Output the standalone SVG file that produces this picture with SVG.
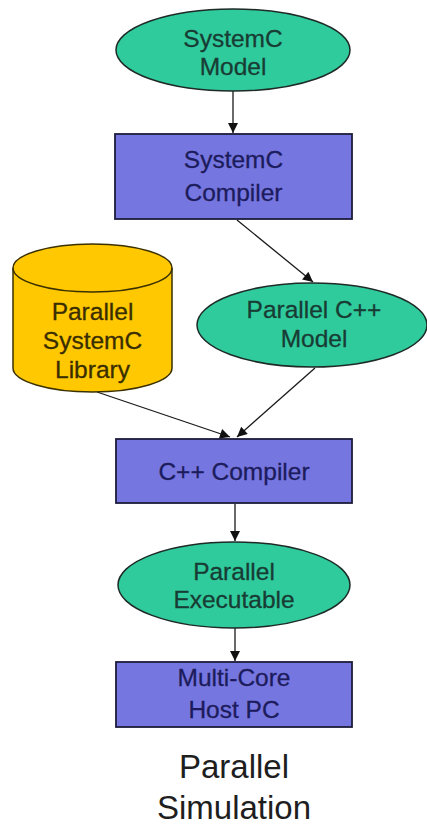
<svg xmlns="http://www.w3.org/2000/svg" width="427" height="825" viewBox="0 0 427 825">
  <defs>
    <marker id="arrow" viewBox="0 0 10 10" refX="10" refY="5" markerWidth="11" markerHeight="10" markerUnits="userSpaceOnUse" orient="auto">
      <path d="M0,0 L10,5 L0,10 z" fill="#111"/>
    </marker>
    <style>
      .ell { fill: #2fcb9c; stroke: #1d2a26; stroke-width: 1.5; }
      .box { fill: #7676e0; stroke: #1c1c3c; stroke-width: 1.8; }
      .cyl { fill: #ffc800; stroke: #3a3000; stroke-width: 1.5; }
      .edge { fill: none; stroke: #1a1a1a; stroke-width: 1.3; marker-end: url(#arrow); }
      text { font-family: "Liberation Sans", Arial, sans-serif; font-size: 24.5px; text-anchor: middle; stroke-width: 0.3px; }
      .t-ell { fill: #183c34; stroke: #183c34; }
      .t-box { fill: #1c1c5c; stroke: #1c1c5c; }
      .t-cyl { fill: #3a2e00; stroke: #3a2e00; }
      .title { fill: #1e1e1e; font-size: 33px; }
    </style>
  </defs>

  <!-- connectors -->
  <g id="edges">
    <line class="edge" x1="233" y1="91" x2="233" y2="133"/>
    <line class="edge" x1="237" y1="220" x2="313" y2="282"/>
    <line class="edge" x1="97" y1="392" x2="230" y2="437"/>
    <line class="edge" x1="315" y1="368" x2="237" y2="437"/>
    <line class="edge" x1="235" y1="504" x2="235" y2="541"/>
    <line class="edge" x1="235" y1="628" x2="235" y2="661"/>
  </g>

  <g id="systemc-model">
    <ellipse class="ell" cx="233" cy="50" rx="117" ry="41"/>
    <text class="t-ell" x="233" y="47">SystemC</text>
    <text class="t-ell" x="233" y="75">Model</text>
  </g>

  <g id="systemc-compiler">
    <rect class="box" x="115" y="134" width="237" height="85"/>
    <text class="t-box" x="233.5" y="168">SystemC</text>
    <text class="t-box" x="233.5" y="201">Compiler</text>
  </g>

  <g id="parallel-systemc-library">
    <path class="cyl" d="M13,268 L13,368 A79.5,24 0 0 0 172,368 L172,268 A79.5,24 0 0 0 13,268 z"/>
    <path class="cyl" d="M13,268 A79.5,24 0 0 0 172,268" style="fill:none"/>
    <text class="t-cyl" x="92.5" y="320">Parallel</text>
    <text class="t-cyl" x="92.5" y="349">SystemC</text>
    <text class="t-cyl" x="92.5" y="378">Library</text>
  </g>

  <g id="parallel-cpp-model">
    <ellipse class="ell" cx="312" cy="325" rx="115" ry="42"/>
    <text class="t-ell" x="314" y="318">Parallel C++</text>
    <text class="t-ell" x="314" y="347">Model</text>
  </g>

  <g id="cpp-compiler">
    <rect class="box" x="116" y="439" width="236" height="64"/>
    <text class="t-box" x="234" y="480">C++ Compiler</text>
  </g>

  <g id="parallel-executable">
    <ellipse class="ell" cx="234" cy="585" rx="116" ry="43"/>
    <text class="t-ell" x="234" y="580">Parallel</text>
    <text class="t-ell" x="234" y="608">Executable</text>
  </g>

  <g id="multicore-host">
    <rect class="box" x="116" y="662" width="236" height="65"/>
    <text class="t-box" x="234" y="686">Multi-Core</text>
    <text class="t-box" x="234" y="718">Host PC</text>
  </g>

  <g id="caption">
    <text class="title" x="234" y="778">Parallel</text>
    <text class="title" x="234" y="819">Simulation</text>
  </g>
</svg>
